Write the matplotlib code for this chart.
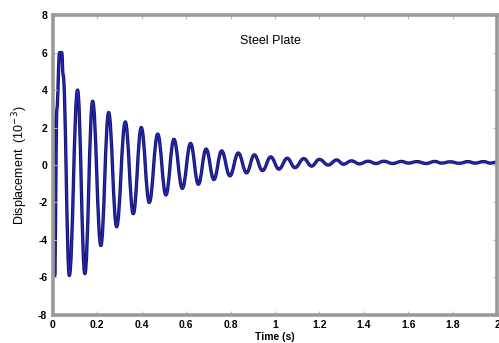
import matplotlib
matplotlib.use('Agg')
import matplotlib.pyplot as plt
from matplotlib.path import Path
from matplotlib.patches import PathPatch

plt.rcParams['font.family'] = ['Liberation Sans', 'DejaVu Sans']
plt.rcParams['axes.unicode_minus'] = False

# peaks / troughs (time in s, displacement in 1e-3)
time_s = [0.0, 0.008, 0.018, 0.030, 0.040, 0.046, 0.074, 0.111, 0.144, 0.179,
          0.216, 0.251, 0.287, 0.326, 0.362, 0.398, 0.434, 0.472, 0.509, 0.545,
          0.583, 0.620, 0.655, 0.690, 0.725, 0.760, 0.797, 0.835, 0.872, 0.907,
          0.944, 0.981, 1.018, 1.055, 1.090, 1.130, 1.165, 1.200, 1.240, 1.278,
          1.308, 1.345, 1.380, 1.420, 1.455, 1.490, 1.530, 1.570, 1.600, 1.640,
          1.680, 1.720, 1.750, 1.790, 1.830, 1.870, 1.900, 1.940, 1.970, 2.000]
disp = [2.7, -5.9, 3.0, 6.0, 6.0, 4.8, -5.9, 4.0, -5.8, 3.4,
        -4.3, 2.8, -3.3, 2.3, -2.6, 2.0, -2.0, 1.65, -1.6, 1.37,
        -1.25, 1.15, -1.03, 0.85, -0.78, 0.75, -0.58, 0.64, -0.42, 0.54,
        -0.30, 0.43, -0.22, 0.36, -0.14, 0.34, -0.06, 0.30, 0.0, 0.27,
        0.04, 0.22, 0.06, 0.20, 0.08, 0.20, 0.08, 0.19, 0.10, 0.18,
        0.08, 0.19, 0.10, 0.17, 0.09, 0.18, 0.10, 0.18, 0.10, 0.15]

x_ticks = [0, 0.2, 0.4, 0.6, 0.8, 1, 1.2, 1.4, 1.6, 1.8, 2]
x_labels = ['0', '0.2', '0.4', '0.6', '0.8', '1', '1.2', '1.4', '1.6', '1.8', '2']
y_ticks = [-8, -6, -4, -2, 0, 2, 4, 6, 8]


# smooth curve through the extrema: cubic bezier with flat tangents at each point
def wave_path(ts, vs):
    verts = [(ts[0], vs[0])]
    codes = [Path.MOVETO]
    for i in range(1, len(ts)):
        d = ts[i] - ts[i - 1]
        verts += [(ts[i - 1] + 0.4 * d, vs[i - 1]), (ts[i] - 0.4 * d, vs[i]), (ts[i], vs[i])]
        codes += [Path.CURVE4] * 3
    return Path(verts, codes)


fig = plt.figure(figsize=(4.99, 3.43), dpi=100)
ax = fig.add_axes([0.106, 0.082, 0.89, 0.874])

p = wave_path(time_s, disp)
ax.add_patch(PathPatch(p, fill=False, edgecolor='#14146e', linewidth=2.4, joinstyle='round'))
ax.add_patch(PathPatch(p, fill=False, edgecolor='#2828b4', linewidth=1.0, joinstyle='round'))

ax.set_xlim(0, 2)
ax.set_ylim(-8, 8)
ax.set_xticks(x_ticks)
ax.set_xticklabels(x_labels)
ax.set_yticks(y_ticks)

for s in ax.spines.values():
    s.set_color('#9a9a9a')
    s.set_linewidth(2.6)

ax.tick_params(direction='in', length=3, width=0.8, color='#bbbbbb',
               top=True, right=True, labelsize=7.5, pad=4)
for lab in ax.get_xticklabels() + ax.get_yticklabels():
    lab.set_fontweight('bold')

ax.set_xlabel('Time (s)', fontsize=7.5, fontweight='bold', labelpad=1)
ax.set_ylabel(r'Displacement  (10$^{-3}$)', fontsize=9, labelpad=6)
ax.text(0.489, 0.913, 'Steel Plate', transform=ax.transAxes,
        ha='center', va='center', fontsize=9)

fig.savefig('out.png', dpi=100)
